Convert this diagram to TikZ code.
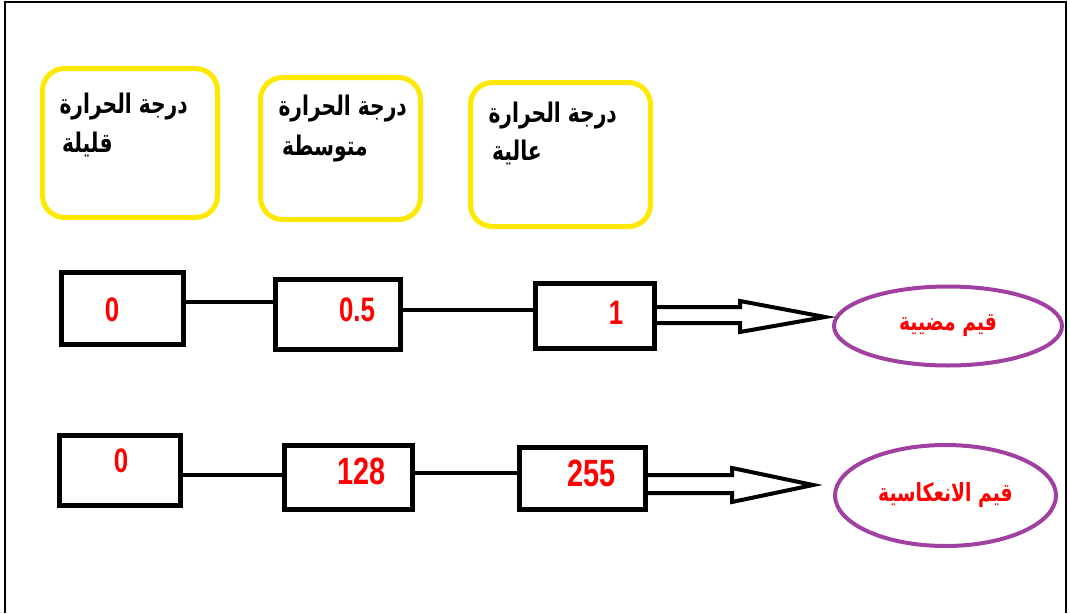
\documentclass[tikz,border=0pt]{standalone}
\usepackage{fontspec}
\usetikzlibrary{shapes.geometric,calc}
\TeXXeTstate=1
\newfontfamily\arabicfont[Script=Arabic,FakeStretch=0.75]{DejaVu Sans}
\newfontfamily\numfont[FakeStretch=0.76]{Liberation Sans}
\definecolor{ylw}{RGB}{255,232,0}
\definecolor{prp}{RGB}{160,64,160}
\definecolor{rd}{RGB}{255,0,0}
\begin{document}
\begin{tikzpicture}[x=1pt,y=-1pt,
  valbox/.style={draw=black,line width=5pt,inner sep=0pt},
  tempbox/.style={draw=ylw,line width=5pt,rounded corners=22pt,inner sep=0pt},
  outell/.style={ellipse,draw=prp,line width=4pt,inner sep=0pt,text=rd,
    font=\arabicfont\bfseries\fontsize{25}{29}\selectfont},
  num/.style={text=rd,inner sep=0pt,font=\numfont\bfseries\fontsize{34}{40}\selectfont},
  bignum/.style={text=rd,inner sep=0pt,font=\numfont\bfseries\fontsize{38}{44}\selectfont},
  artextR/.style={anchor=base east,inner sep=0pt,font=\arabicfont\bfseries\fontsize{27}{32}\selectfont},
  artextL/.style={anchor=base west,inner sep=0pt,font=\arabicfont\bfseries\fontsize{27}{32}\selectfont},
  link/.style={line width=4pt},
  hollow/.style={line width=4pt,line join=miter}]
\useasboundingbox (0,0) rectangle (1070,613);
% frame
\draw[line width=2.5pt] (5,613) -- (5,2) -- (1066,2) -- (1066,613);

% temperature boxes
\node[tempbox,minimum width=175pt,minimum height=149pt] (Y1) at (130,143) {};
\node[tempbox,minimum width=160pt,minimum height=142pt] (Y2) at (340.5,148.5) {};
\node[tempbox,minimum width=180pt,minimum height=144pt] (Y3) at (560.5,154.5) {};
\node[artextR] (Y1a) at (188,113) {\beginR درجة الحرارة\endR};
\node[artextL] (Y1b) at (62,152) {\beginR قليلة\endR};
\node[artextR] (Y2a) at (407,115) {\beginR درجة الحرارة\endR};
\node[artextL] (Y2b) at (282,155) {\beginR متوسطة\endR};
\node[artextR] (Y3a) at (617,122) {\beginR درجة الحرارة\endR};
\node[artextL] (Y3b) at (492,160) {\beginR عالية\endR};

% row 1
\node[valbox,minimum width=122pt,minimum height=72pt] (A) at (122.5,308.5) {};
\node[valbox,minimum width=125pt,minimum height=70pt] (B) at (338,314.5) {};
\node[valbox,minimum width=119pt,minimum height=65pt] (C) at (595,316) {};
\node[num] (An) at (112,310) {0};
\node[num] (Bn) at (357,310) {0.5};
\node[num] (Cn) at (616,313) {1};
\draw[link] ([yshift=6.5pt]A.east) -- ([yshift=12.5pt]B.west);
\draw[link] ([yshift=4.5pt]B.east) -- ([yshift=6pt]C.west);
\node[outell,minimum width=228pt,minimum height=79pt] (E1) at (948,326) {\beginR قيم مضيية\endR};
\coordinate (t1) at (825,317);
\draw[hollow] ([yshift=9pt]C.east) -- (740,307) -- (740,301) -- (t1)
  -- (740,332) -- (740,323) -- ([yshift=-7pt]C.east);

% row 2
\node[valbox,minimum width=121pt,minimum height=70pt] (D) at (120,470.5) {};
\node[valbox,minimum width=128pt,minimum height=64pt] (E) at (348.5,477.5) {};
\node[valbox,minimum width=126pt,minimum height=62pt] (F) at (582.5,478.5) {};
\node[num] (Dn) at (121,461) {0};
\node[bignum] (En) at (361.5,471) {128};
\node[bignum] (Fn) at (591.5,473.5) {255};
\draw[link] ([yshift=-4.5pt]D.east) -- ([yshift=2.5pt]E.west);
\draw[link] ([yshift=4.5pt]E.east) -- ([yshift=5.5pt]F.west);
\node[outell,minimum width=221pt,minimum height=101pt] (E2) at (945.5,495.5) {\beginR قيم الانعكاسية\endR};
\coordinate (t2) at (813,485);
\draw[hollow] ([yshift=3.5pt]F.east) -- (732,475) -- (732,468) -- (t2)
  -- (732,502) -- (732,493) -- ([yshift=-14.5pt]F.east);
\end{tikzpicture}
\end{document}
